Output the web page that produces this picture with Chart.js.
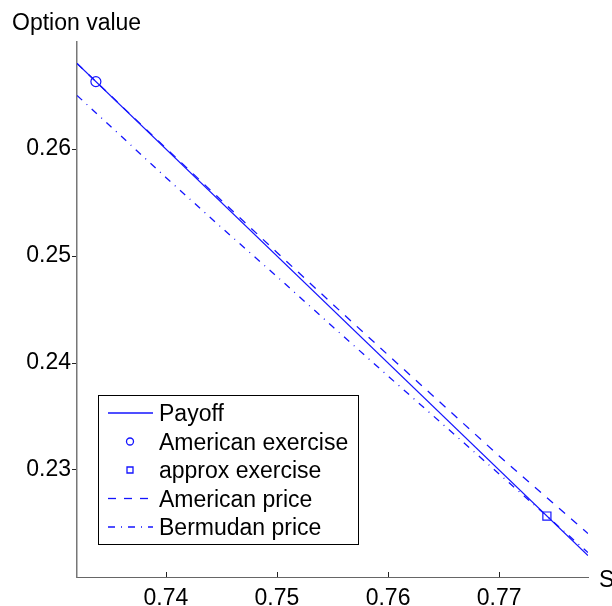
<!DOCTYPE html>
<html>
<head>
<meta charset="utf-8">
<script src="https://cdn.jsdelivr.net/npm/chart.js@4.4.1/dist/chart.umd.min.js"></script>
<style>
html, body { margin: 0; padding: 0; background: #fff; }
canvas { display: block; }
</style>
</head>
<body>
<canvas id="optChart" width="612" height="606"></canvas>
<script>
// values
const payoffS = [0.732, 0.778];
const payoffV = [0.268, 0.222];

const amExS = [0.7337];
const amExV = [0.2663];

const apExS = [0.7743];
const apExV = [0.2257];

const americanS = [0.732, 0.7337, 0.740, 0.745, 0.750, 0.755, 0.760, 0.765, 0.770, 0.775, 0.778];
const americanV = [0.268, 0.2663, 0.26009, 0.25519, 0.25033, 0.24551, 0.24075, 0.23603, 0.23131, 0.22678, 0.22406];

const bermudanS = [0.732, 0.740, 0.745, 0.750, 0.755, 0.760, 0.765, 0.770, 0.775, 0.778];
const bermudanV = [0.26501, 0.25734, 0.25266, 0.24808, 0.24341, 0.23878, 0.23421, 0.22963, 0.22505, 0.22228];

const xTicks = [0.74, 0.75, 0.76, 0.77];
const yTicks = [0.23, 0.24, 0.25, 0.26];

const blue = 'rgb(20,20,255)';
const fontFamily = '"Liberation Sans", Arial, Helvetica, sans-serif';

const pts = (xs, ys) => xs.map((x, i) => ({ x: x, y: ys[i] }));

const lineSet = (label, xs, ys, dash) => ({
    label: label,
    data: pts(xs, ys),
    borderColor: blue,
    backgroundColor: blue,
    borderWidth: 1.3,
    borderDash: dash,
    pointRadius: 0,
    tension: 0,
    fill: false
});

const markerSet = (label, xs, ys, style, r) => ({
    label: label,
    data: pts(xs, ys),
    showLine: false,
    pointStyle: style,
    pointRadius: r,
    pointBorderColor: blue,
    pointBackgroundColor: 'rgba(0,0,0,0)',
    pointBorderWidth: 1.2
});

const datasets = [
    lineSet('Payoff', payoffS, payoffV, []),
    markerSet('American exercise', amExS, amExV, 'circle', 5),
    markerSet('approx exercise', apExS, apExV, 'rect', 5.7),
    lineSet('American price', americanS, americanV, [8, 8]),
    lineSet('Bermudan price', bermudanS, bermudanV, [7, 6, 1, 6])
];

// title, axis letter, inward x ticks and the boxed legend
const extras = {
    id: 'extras',
    afterDraw(chart) {
        const ctx = chart.ctx;
        const area = chart.chartArea;
        const xs = chart.scales.x;
        ctx.save();

        ctx.strokeStyle = '#222';
        ctx.lineWidth = 1;
        xs.ticks.forEach(t => {
            const px = Math.round(xs.getPixelForValue(t.value)) + 0.5;
            ctx.beginPath();
            ctx.moveTo(px, area.bottom);
            ctx.lineTo(px, area.bottom - 5);
            ctx.stroke();
        });

        ctx.fillStyle = '#000';
        ctx.font = '23px ' + fontFamily;
        ctx.textAlign = 'left';
        ctx.textBaseline = 'alphabetic';
        ctx.fillText('Option value', 12, 30);
        ctx.fillText('S', 599, 587);

        // legend box
        const bx = 98, by = 395, bw = 260, bh = 149;
        ctx.fillStyle = '#fff';
        ctx.fillRect(bx, by, bw, bh);
        ctx.strokeStyle = '#000';
        ctx.strokeRect(bx + 0.5, by + 0.5, bw, bh);

        chart.data.datasets.forEach((ds, i) => {
            const ry = by + 18 + i * 28.5;
            ctx.strokeStyle = blue;
            ctx.lineWidth = 1.3;
            if (ds.showLine === false) {
                ctx.beginPath();
                if (ds.pointStyle === 'circle') {
                    ctx.arc(130, ry, 3.5, 0, Math.PI * 2);
                } else {
                    ctx.rect(127, ry - 3, 6, 6);
                }
                ctx.stroke();
            } else {
                ctx.setLineDash(ds.borderDash || []);
                ctx.beginPath();
                ctx.moveTo(108, ry);
                ctx.lineTo(153, ry);
                ctx.stroke();
                ctx.setLineDash([]);
            }
            ctx.fillStyle = '#000';
            ctx.fillText(ds.label, 159, ry + 8);
        });

        ctx.restore();
    }
};

const optConfig = {
    type: 'line',
    data: { datasets: datasets },
    options: {
        responsive: false,
        animation: false,
        events: [],
        layout: { padding: { top: 42, right: 24, left: 0, bottom: 0 } },
        plugins: {
            legend: { display: false },
            tooltip: { enabled: false },
            title: { display: false }
        },
        scales: {
            x: {
                type: 'linear',
                min: 0.732,
                max: 0.778,
                afterBuildTicks: s => { s.ticks = xTicks.map(v => ({ value: v })); },
                afterFit: s => { s.height = 29; },
                grid: { drawOnChartArea: false, drawTicks: false },
                border: { display: true, color: '#666', width: 1 },
                ticks: {
                    color: '#000',
                    padding: 8,
                    font: { family: fontFamily, size: 23 },
                    callback: v => v.toFixed(2)
                }
            },
            y: {
                type: 'linear',
                min: 0.22,
                max: 0.27,
                afterBuildTicks: s => { s.ticks = yTicks.map(v => ({ value: v })); },
                afterFit: s => { s.width = 77; },
                grid: { drawOnChartArea: false, drawTicks: true, tickLength: 5, tickColor: '#222' },
                border: { display: true, color: '#777', width: 1.5 },
                ticks: {
                    color: '#000',
                    padding: 1,
                    font: { family: fontFamily, size: 23 },
                    callback: v => v.toFixed(2)
                }
            }
        }
    },
    plugins: [extras]
};

const optChart = new Chart(document.getElementById('optChart'), optConfig);
</script>
</body>
</html>
